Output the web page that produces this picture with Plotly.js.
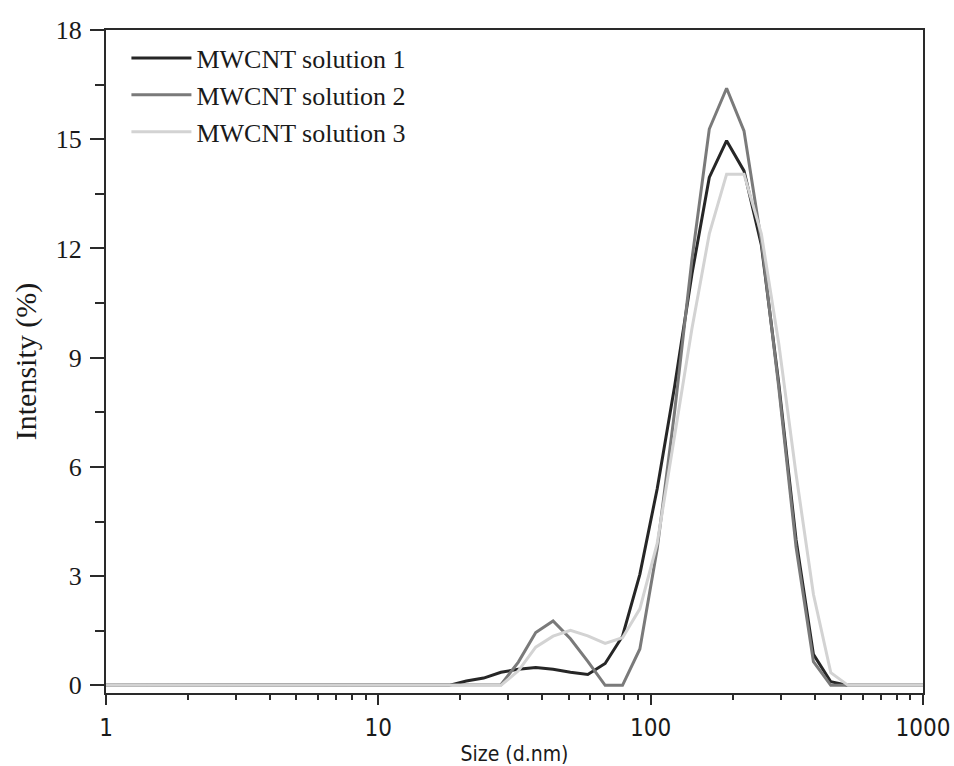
<!DOCTYPE html>
<html>
<head>
<meta charset="utf-8">
<script src="https://cdn.plot.ly/plotly-3.0.1.min.js"></script>
<style>
  html, body { margin: 0; padding: 0; background: #ffffff; }
  #chart { width: 954px; height: 766px; }
</style>
</head>
<body>
<div id="chart"></div>
<script>
// Size bins (d.nm)
const sizes = [0.9649, 1.117, 1.294, 1.499, 1.736, 2.010, 2.328, 2.696, 3.122, 3.615,
  4.187, 4.849, 5.615, 6.503, 7.531, 8.721, 10.10, 11.70, 13.54, 15.69,
  18.17, 21.04, 24.36, 28.21, 32.67, 37.84, 43.82, 50.75, 58.77, 68.06,
  78.82, 91.28, 105.7, 122.4, 141.8, 164.2, 190.1, 220.2, 255.0, 295.3,
  342.0, 396.1, 458.7, 531.2, 615.1, 712.4, 825.0, 955.4, 1106];

// Intensity (%) per bin
const solution1 = [0, 0, 0, 0, 0, 0, 0, 0, 0, 0,
  0, 0, 0, 0, 0, 0, 0, 0, 0, 0,
  0, 0.12, 0.20, 0.36, 0.44, 0.49, 0.44, 0.36, 0.30, 0.60,
  1.35, 3.05, 5.40, 8.20, 11.30, 13.95, 14.96, 14.13, 12.10, 8.30,
  4.00, 0.85, 0.10, 0, 0, 0, 0, 0, 0];

const solution2 = [0, 0, 0, 0, 0, 0, 0, 0, 0, 0,
  0, 0, 0, 0, 0, 0, 0, 0, 0, 0,
  0, 0, 0, 0.02, 0.64, 1.45, 1.77, 1.28, 0.66, 0,
  0, 1.00, 3.75, 7.50, 11.70, 15.28, 16.40, 15.23, 12.20, 8.20,
  3.80, 0.65, 0, 0, 0, 0, 0, 0, 0];

const solution3 = [0, 0, 0, 0, 0, 0, 0, 0, 0, 0,
  0, 0, 0, 0, 0, 0, 0, 0, 0, 0,
  0, 0, 0, 0, 0.40, 1.05, 1.35, 1.51, 1.36, 1.15,
  1.31, 2.10, 3.90, 6.80, 9.80, 12.40, 14.04, 14.04, 12.40, 9.40,
  5.80, 2.50, 0.35, 0, 0, 0, 0, 0, 0];

const seriesNames = ["MWCNT solution 1", "MWCNT solution 2", "MWCNT solution 3"];
const xTickVals = [1, 10, 100, 1000];
const xTickText = ["1", "10", "100", "1000"];
const yTickVals = [0, 3, 6, 9, 12, 15, 18];

const colors = ["#262626", "#7a7a7a", "#d3d3d3"];
const ys = [solution1, solution2, solution3];

const traces = ys.map((y, i) => ({
  x: sizes,
  y: y,
  type: "scatter",
  mode: "lines",
  name: seriesNames[i],
  line: { color: colors[i], width: 3 },
  cliponaxis: true
}));

const serif = "Liberation Serif, Times New Roman, serif";
const sans = "DejaVu Sans Condensed, Liberation Sans Narrow, DejaVu Sans, sans-serif";

const layout = {
  width: 954,
  height: 766,
  margin: { l: 106, r: 31, t: 30, b: 73 },
  paper_bgcolor: "#ffffff",
  plot_bgcolor: "#ffffff",
  showlegend: true,
  legend: {
    x: 0.025, y: 0.993, xanchor: "left", yanchor: "top",
    bgcolor: "rgba(0,0,0,0)",
    font: { family: serif, size: 26, color: "#1a1a1a" },
    itemwidth: 60
  },
  xaxis: {
    type: "log",
    range: [-0.0002, 3.0002],
    tickmode: "array",
    tickvals: xTickVals,
    ticktext: xTickText,
    ticks: "outside",
    ticklen: 10,
    tickwidth: 2,
    tickcolor: "#2a2a2a",
    minor: { ticks: "outside", ticklen: 5, tickwidth: 2, tickcolor: "#2a2a2a", dtick: "D1", showgrid: false },
    showline: true,
    linecolor: "#2a2a2a",
    linewidth: 2,
    mirror: true,
    showgrid: false,
    zeroline: false,
    tickfont: { family: sans, size: 24, color: "#1a1a1a" },
    ticklabelstandoff: 2,
    title: { text: "Size (d.nm)", font: { family: sans, size: 21, color: "#1a1a1a" }, standoff: 8 }
  },
  yaxis: {
    range: [-0.21, 18],
    tickmode: "array",
    tickvals: yTickVals,
    ticks: "outside",
    ticklen: 14,
    tickwidth: 2,
    tickcolor: "#2a2a2a",
    minor: { ticks: "outside", ticklen: 9, tickwidth: 2, tickcolor: "#2a2a2a", dtick: 1.5, tick0: 0, showgrid: false },
    showline: true,
    linecolor: "#2a2a2a",
    linewidth: 2,
    mirror: true,
    showgrid: false,
    zeroline: false,
    tickfont: { family: serif, size: 26, color: "#1a1a1a" },
    ticklabelstandoff: 3,
    title: { text: "Intensity (%)", font: { family: serif, size: 30, color: "#1a1a1a" }, standoff: 10 }
  }
};

Plotly.newPlot("chart", traces, layout, { displayModeBar: false, staticPlot: true });
</script>
</body>
</html>
